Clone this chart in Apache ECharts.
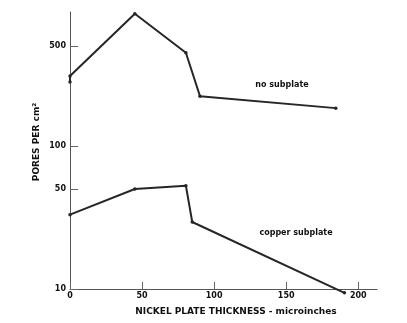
<!DOCTYPE html>
<html><head><meta charset="utf-8">
<script src="https://cdn.jsdelivr.net/npm/echarts@6/dist/echarts.min.js"></script>
<style>html,body{margin:0;padding:0;background:#fff}#c{width:407px;height:323px}</style>
</head><body><div id="c"></div>
<script>
const noSubX = [0, 0, 45, 80.4, 90.2, 184.4];
const noSubY = [280, 309, 841, 449, 223, 184];
const copperX = [0, 45, 80.4, 84.8, 190.4];
const copperY = [33.1, 50, 52.8, 29.4, 9.4];
const xTicks = [0, 50, 100, 150, 200];
const yTicks = [10, 50, 100, 500];
const xTitle = 'NICKEL PLATE THICKNESS - microinches';
const yTitle = 'PORES PER cm\u00B2';
const seriesNames = ['no subplate', 'copper subplate'];

const FONT = '"DejaVu Sans", sans-serif';
const INK = '#262626';
const chart = echarts.init(document.getElementById('c'), null, {renderer: 'canvas'});
const lineSeries = (name, xs, ys) => ({
  name, type: 'line', clip: false, silent: true,
  data: xs.map((x, i) => [x, ys[i]]),
  symbol: 'circle', symbolSize: 3.5, showSymbol: true,
  lineStyle: {color: INK, width: 2},
  itemStyle: {color: INK}
});
chart.setOption({
  animation: false,
  backgroundColor: '#fff',
  grid: {left: 70, right: 30, top: 12, bottom: 34},
  xAxis: {
    type: 'value', min: 0, max: 213,
    splitLine: {show: false},
    axisLine: {lineStyle: {color: '#555', width: 1}},
    axisTick: {inside: true, length: 7, customValues: xTicks, lineStyle: {color: '#666'}},
    axisLabel: {customValues: xTicks, margin: 3, color: '#111', fontFamily: FONT, fontWeight: 'bold', fontSize: 8}
  },
  yAxis: {
    type: 'log', logBase: 10, min: 10, max: 865,
    splitLine: {show: false},
    axisLine: {show: true, lineStyle: {color: '#555', width: 1}},
    axisTick: {show: true, inside: true, length: 8, customValues: yTicks, lineStyle: {color: '#666'}},
    axisLabel: {customValues: yTicks, margin: 4, color: '#111', fontFamily: FONT, fontWeight: 'bold', fontSize: 8}
  },
  series: [lineSeries(seriesNames[0], noSubX, noSubY), lineSeries(seriesNames[1], copperX, copperY)],
  graphic: [
    {type: 'text', x: 282, y: 85, style: {text: seriesNames[0], fill: '#111', font: 'bold 8px ' + FONT, textAlign: 'center', textVerticalAlign: 'middle'}},
    {type: 'text', x: 296, y: 233, style: {text: seriesNames[1], fill: '#111', font: 'bold 8px ' + FONT, textAlign: 'center', textVerticalAlign: 'middle'}},
    {type: 'text', x: 236, y: 312, style: {text: xTitle, fill: '#111', font: 'bold 9px ' + FONT, textAlign: 'center', textVerticalAlign: 'middle'}},
    {type: 'text', x: 37, y: 142, rotation: Math.PI / 2, style: {text: yTitle, fill: '#111', font: 'bold 9px ' + FONT, textAlign: 'center', textVerticalAlign: 'middle'}}
  ]
});
</script></body></html>
